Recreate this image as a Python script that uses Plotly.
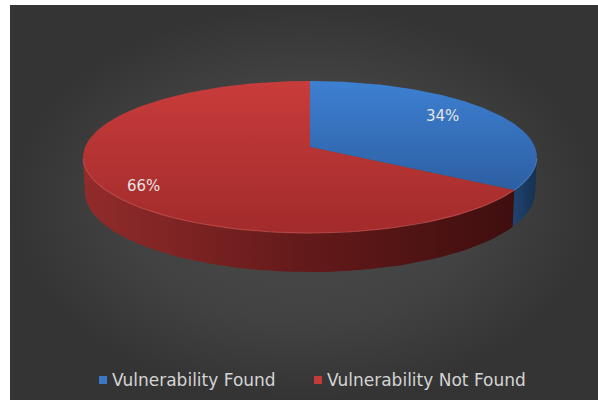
import numpy as np
import plotly.graph_objects as go

# ---- data -------------------------------------------------------------
categories = ["Vulnerability Found", "Vulnerability Not Found"]
values = [34, 66]

# ---- styling ------------------------------------------------------------
top_colors = [["#3d80d2", "#2d5fa2"], ["#c83c3b", "#a22b2b"]]
wall_colors = [["#1f4472", "#16304f"], ["#922b2b", "#651a1a", "#3f0e0e"]]
legend_colors = ["#3a78c6", "#c23a3a"]
TEXT = "#e4e4e4"
FONT = "DejaVu Sans"

W, H = 598, 400
ML, MT = 10, 5

# ---- simple perspective camera for a tilted disc ------------------------
CX, CY = 310.0, 147.0          # screen position of the disc centre
ELEV = np.radians(19.4)         # camera elevation
DIST = 7.17                     # camera distance (disc radii)
FOCAL = 1613.0                  # px per unit at unit depth
THICK = 0.164                   # disc thickness (disc radii)
se, ce = np.sin(ELEV), np.cos(ELEV)


def project(theta_deg, r=1.0, z=0.0):
    """Angle measured clockwise from the back of the disc."""
    t = np.radians(np.asarray(theta_deg, dtype=float))
    x = r * np.sin(t)
    y = r * np.cos(t)
    depth = y * ce - z * se
    up = y * se + z * ce
    k = FOCAL / (DIST + depth)
    return CX + x * k, CY - up * k


# silhouette of the side wall as seen from the camera
cam_y = -DIST * ce
sil = np.degrees(np.arccos(1.0 / cam_y))   # right-hand silhouette angle

total = float(sum(values))
bounds = np.concatenate([[0.0], np.cumsum(values) / total * 360.0])

fig = go.Figure()

# background panel with a soft radial glow
fig.add_trace(go.Scatter(
    x=[ML, W, W, ML, ML], y=[MT, MT, H, H, MT],
    fill="toself", mode="lines", line=dict(width=0),
    fillgradient=dict(type="radial",
                      colorscale=[[0, "#4b4b4b"], [0.6, "#424242"], [1, "#343434"]]),
    hoverinfo="skip", showlegend=False))

# side walls (only the visible front part)
for i in range(len(values)):
    a0, a1 = bounds[i], bounds[i + 1]
    lo, hi = max(a0, sil), min(a1, 360.0 - sil)
    if hi <= lo:
        continue
    th = np.linspace(lo, hi, 80)
    xt, yt = project(th, 1.0, 0.0)
    xb, yb = project(th[::-1], 1.0, -THICK)
    cols = wall_colors[i]
    cs = [[j / (len(cols) - 1), c] for j, c in enumerate(cols)]
    fig.add_trace(go.Scatter(
        x=np.concatenate([xt, xb, xt[:1]]), y=np.concatenate([yt, yb, yt[:1]]),
        fill="toself", mode="lines", line=dict(width=0),
        fillgradient=dict(type="horizontal", colorscale=cs),
        hoverinfo="skip", showlegend=False))

# top faces
for i in range(len(values)):
    a0, a1 = bounds[i], bounds[i + 1]
    th = np.linspace(a0, a1, 200)
    xa, ya = project(th)
    cx0, cy0 = project(0.0, 0.0)
    c_top, c_bot = top_colors[i]
    fig.add_trace(go.Scatter(
        x=np.concatenate([[cx0], xa, [cx0]]), y=np.concatenate([[cy0], ya, [cy0]]),
        fill="toself", mode="lines", line=dict(width=0),
        fillgradient=dict(type="vertical", colorscale=[[0, c_bot], [1, c_top]]),
        hoverinfo="skip", showlegend=False))

# thin highlight along the front rim
for i in range(len(values)):
    a0, a1 = bounds[i], bounds[i + 1]
    lo, hi = max(a0, sil), min(a1, 360.0 - sil)
    if hi <= lo:
        continue
    th = np.linspace(lo, hi, 80)
    xr, yr = project(th)
    rim = "rgba(225,95,95,0.5)" if i == 1 else "rgba(90,150,225,0.5)"
    fig.add_trace(go.Scatter(x=xr, y=yr, mode="lines",
                             line=dict(color=rim, width=1.2),
                             hoverinfo="skip", showlegend=False))

# percentage labels
label_r = [0.70, 0.80]
label_dy = [-7, 9]
for i, v in enumerate(values):
    mid = (bounds[i] + bounds[i + 1]) / 2.0
    lx, ly = project(mid, label_r[i])
    fig.add_annotation(x=float(lx), y=float(ly) + label_dy[i], text=f"{v}%",
                       showarrow=False,
                       font=dict(family=FONT, size=15, color=TEXT),
                       xanchor="center", yanchor="middle")

# legend row along the bottom
LEG_Y = 380
leg_x = [103, 318]
fig.add_trace(go.Scatter(
    x=leg_x, y=[LEG_Y] * len(leg_x), mode="markers",
    marker=dict(symbol="square", size=8, color=legend_colors, line=dict(width=0)),
    hoverinfo="skip", showlegend=False))
for name, lx in zip(categories, leg_x):
    fig.add_annotation(x=lx + 7, y=LEG_Y, text=name, showarrow=False,
                       xanchor="left", yanchor="middle",
                       font=dict(family=FONT, size=17, color="#d4d4d4"))

fig.update_layout(
    width=W, height=H,
    margin=dict(l=ML, r=0, t=MT, b=0),
    paper_bgcolor="white", plot_bgcolor="rgba(0,0,0,0)",
    xaxis=dict(range=[ML, W], visible=False, fixedrange=True),
    yaxis=dict(range=[H, MT], visible=False, fixedrange=True),
    showlegend=False,
)

fig.write_html("out.html")
